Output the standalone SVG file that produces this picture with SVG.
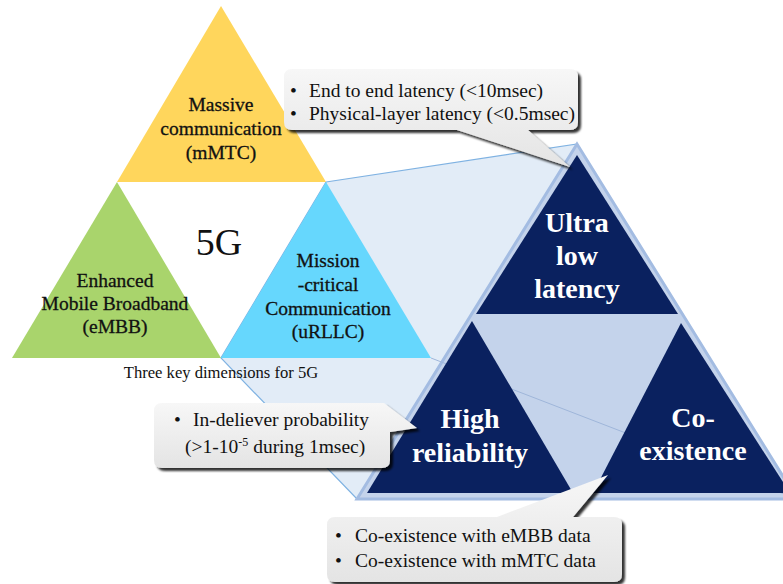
<svg xmlns="http://www.w3.org/2000/svg" width="783" height="584" viewBox="0 0 783 584">
<defs>
<linearGradient id="cg" x1="0" y1="0" x2="0" y2="1">
<stop offset="0" stop-color="#f7f7f7"/><stop offset="1" stop-color="#e4e4e4"/>
</linearGradient>
<filter id="sh" x="-10%" y="-10%" width="125%" height="135%">
<feDropShadow dx="3" dy="3" stdDeviation="1.2" flood-color="#000" flood-opacity="0.8"/>
</filter>
</defs>
<style>
.lbl{font-family:"Liberation Serif","Times New Roman",serif;font-size:19.5px;fill:#111;text-anchor:middle;stroke:#111;stroke-width:0.3}
.big{font-family:"Liberation Serif","Times New Roman",serif;font-size:28px;font-weight:bold;fill:#fff;text-anchor:middle}
.ct{font-family:"Liberation Serif","Times New Roman",serif;font-size:19.5px;fill:#111}
.callout{fill:url(#cg);filter:url(#sh)}
.dark{fill:#0a215f}
</style>
<rect width="783" height="584" fill="#fff"/>
<g id="projection">
<polygon points="326,182 577,144 357,499 221,358" fill="#e2ecf7" stroke="#7fb2e2" stroke-width="1.2"/>
</g>
<g id="mmtc">
<polygon points="221,6 117,182 326,182" fill="#ffd65c"/>
<text class="lbl" x="221" y="111">Massive</text>
<text class="lbl" x="221" y="135">communication</text>
<text class="lbl" x="221" y="159">(mMTC)</text>
</g>
<g id="embb">
<polygon points="117,182 12,358 221,358" fill="#a9d46c"/>
<text class="lbl" x="115" y="287">Enhanced</text>
<text class="lbl" x="115" y="310">Mobile Broadband</text>
<text class="lbl" x="115" y="333">(eMBB)</text>
</g>
<g id="urllc">
<polygon points="326,182 221,358 431,358" fill="#66d7fd"/>
<text class="lbl" x="328" y="267">Mission</text>
<text class="lbl" x="328" y="291">-critical</text>
<text class="lbl" x="328" y="315">Communication</text>
<text class="lbl" x="328" y="338">(uRLLC)</text>
</g>
<g id="fiveg">
<text x="219" y="255" font-family="Liberation Serif, Times New Roman, serif" font-size="38" fill="#111" text-anchor="middle">5G</text>
<text x="221" y="378" font-family="Liberation Serif, Times New Roman, serif" font-size="16.6" fill="#111" text-anchor="middle">Three key dimensions for 5G</text>
</g>
<g id="big-triangle">
<polygon points="577,144 357,499 797,499" fill="#c4d3eb" stroke="#a3bce2" stroke-width="3"/>
<line x1="431" y1="358" x2="797" y2="499" stroke="#9fb6da" stroke-width="1"/>
</g>
<g id="ultra-low-latency">
<polygon class="dark" points="577,155 476,314 678,314"/>
<text class="big" x="577" y="232">Ultra</text>
<text class="big" x="577" y="265">low</text>
<text class="big" x="577" y="298">latency</text>
</g>
<g id="high-reliability">
<polygon class="dark" points="472,321 367,493 573,493"/>
<text class="big" x="470" y="428">High</text>
<text class="big" x="470" y="462">reliability</text>
</g>
<g id="co-existence">
<polygon class="dark" points="681,323 593,493 790,493"/>
<text class="big" x="693" y="427">Co-</text>
<text class="big" x="693" y="460">existence</text>
</g>
<g id="callout-latency">
<path class="callout" d="M292,69 H570 Q578,69 578,77 V122 Q578,130 570,130 H528 L570,167 L457,130 H292 Q284,130 284,122 V77 Q284,69 292,69 Z"/>
<text class="ct" x="290" y="97">•</text>
<text class="ct" x="309" y="97">End to end latency (&lt;10msec)</text>
<text class="ct" x="290" y="120">•</text>
<text class="ct" x="309" y="120">Physical-layer latency (&lt;0.5msec)</text>
</g>
<g id="callout-reliability">
<path class="callout" d="M162,403 H384 L417,428 L390,432 V460 Q390,468 382,468 H162 Q154,468 154,460 V411 Q154,403 162,403 Z"/>
<text class="ct" x="174" y="426">•</text>
<text class="ct" x="193" y="426">In-deliever probability</text>
<text class="ct" x="185" y="453">(&gt;1-10<tspan font-size="12" dy="-7">-5</tspan><tspan dy="7"> during 1msec)</tspan></text>
</g>
<g id="callout-coexistence">
<path class="callout" d="M335,517 H497 L608,475 L573,517 H614 Q622,517 622,525 V574 Q622,582 614,582 H335 Q327,582 327,574 V525 Q327,517 335,517 Z"/>
<text class="ct" x="335" y="542">•</text>
<text class="ct" x="355" y="542">Co-existence with eMBB data</text>
<text class="ct" x="335" y="567">•</text>
<text class="ct" x="355" y="567">Co-existence with mMTC data</text>
</g>
</svg>
